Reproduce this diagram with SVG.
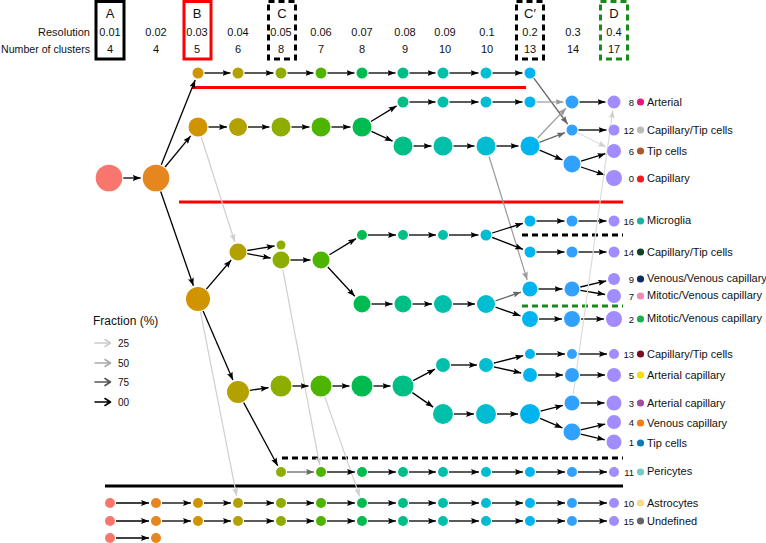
<svg xmlns="http://www.w3.org/2000/svg" width="766" height="543" viewBox="0 0 766 543">
<style>
text{font-family:"Liberation Sans",Arial,sans-serif;fill:#111}
.h{font-size:11px;text-anchor:middle}
.hl{font-size:13px;text-anchor:middle}
.hr{font-size:11px;text-anchor:end}
.num{font-size:9.5px;text-anchor:end}
.lab{font-size:11px}
.c0{fill:#F8766D}.c1{fill:#E6861F}.c2{fill:#D09400}.c3{fill:#B3A100}.c4{fill:#8DAD00}.c5{fill:#4DB500}.c6{fill:#00BB4F}.c7{fill:#00BF86}.c8{fill:#00C0AA}.c9{fill:#00BDD2}.c10{fill:#00B4EF}.c11{fill:#30A1FF}.c12{fill:#A28CFF}
.k{stroke:#000;stroke-width:1.3;fill:none;marker-end:url(#mk)}
.d{stroke:#666;stroke-width:1.3;fill:none;marker-end:url(#md)}
.g{stroke:#999;stroke-width:1.2;fill:none;marker-end:url(#mg)}
.l{stroke:#cfcfcf;stroke-width:1.2;fill:none;marker-end:url(#ml)}
</style>
<defs>
<marker id="mk" markerUnits="userSpaceOnUse" markerWidth="8" markerHeight="6" refX="8" refY="3" orient="auto" viewBox="0 0 8 6"><path d="M0,0 L8,3 L0,6 L1.5,3 z" fill="#000"/></marker>
<marker id="md" markerUnits="userSpaceOnUse" markerWidth="8" markerHeight="6" refX="8" refY="3" orient="auto" viewBox="0 0 8 6"><path d="M0,0 L8,3 L0,6 L1.5,3 z" fill="#666"/></marker>
<marker id="mg" markerUnits="userSpaceOnUse" markerWidth="8" markerHeight="6" refX="8" refY="3" orient="auto" viewBox="0 0 8 6"><path d="M0,0 L8,3 L0,6 L1.5,3 z" fill="#999"/></marker>
<marker id="ml" markerUnits="userSpaceOnUse" markerWidth="8" markerHeight="6" refX="8" refY="3" orient="auto" viewBox="0 0 8 6"><path d="M0,0 L8,3 L0,6 L1.5,3 z" fill="#cfcfcf"/></marker>
</defs>
<rect width="766" height="543" fill="#fff"/>

<g id="header">
<rect x="96" y="1.5" width="28" height="57.5" fill="none" stroke="#000" stroke-width="3"/>
<rect x="184" y="1.5" width="27" height="57.5" fill="none" stroke="#f00" stroke-width="3"/>
<rect x="268.5" y="1.5" width="27" height="57.5" fill="none" stroke="#000" stroke-width="3" stroke-dasharray="6,4"/>
<rect x="516.5" y="1.5" width="27" height="57.5" fill="none" stroke="#000" stroke-width="3" stroke-dasharray="6,4"/>
<rect x="600.5" y="1.5" width="27" height="57.5" fill="none" stroke="#1a8a1a" stroke-width="3" stroke-dasharray="6,4"/>
<text class="hl" x="110" y="18">A</text>
<text class="hl" x="197" y="18">B</text>
<text class="hl" x="282" y="18">C</text>
<text class="hl" x="530" y="18">C′</text>
<text class="hl" x="614" y="18">D</text>
<text class="hr" x="90" y="36">Resolution</text>
<text x="1" y="53" style="font-size:11px" textLength="89" lengthAdjust="spacingAndGlyphs">Number of clusters</text>
<text class="h" x="110" y="36">0.01</text><text class="h" x="110" y="53">4</text>
<text class="h" x="156" y="36">0.02</text><text class="h" x="156" y="53">4</text>
<text class="h" x="197" y="36">0.03</text><text class="h" x="197" y="53">5</text>
<text class="h" x="238" y="36">0.04</text><text class="h" x="238" y="53">6</text>
<text class="h" x="281" y="36">0.05</text><text class="h" x="281" y="53">8</text>
<text class="h" x="321" y="36">0.06</text><text class="h" x="321" y="53">7</text>
<text class="h" x="362" y="36">0.07</text><text class="h" x="362" y="53">8</text>
<text class="h" x="405" y="36">0.08</text><text class="h" x="405" y="53">9</text>
<text class="h" x="445" y="36">0.09</text><text class="h" x="445" y="53">10</text>
<text class="h" x="487" y="36">0.1</text><text class="h" x="487" y="53">10</text>
<text class="h" x="530" y="36">0.2</text><text class="h" x="530" y="53">13</text>
<text class="h" x="573" y="36">0.3</text><text class="h" x="573" y="53">14</text>
<text class="h" x="614" y="36">0.4</text><text class="h" x="614" y="53">17</text>
</g>

<g id="separators">
<line x1="192" y1="87.5" x2="526" y2="87.5" stroke="#f00" stroke-width="3"/>
<line x1="179" y1="202" x2="623" y2="202" stroke="#f00" stroke-width="3"/>
<line x1="522" y1="235" x2="623" y2="235" stroke="#000" stroke-width="3" stroke-dasharray="6,4"/>
<line x1="522" y1="306" x2="623" y2="306" stroke="#1a8a1a" stroke-width="3" stroke-dasharray="6,4"/>
<line x1="282" y1="458" x2="623" y2="458" stroke="#000" stroke-width="3" stroke-dasharray="6,4"/>
<line x1="105" y1="486" x2="623" y2="486" stroke="#000" stroke-width="3"/>
</g>

<g id="connectors">
<line class="k" x1="123.3" y1="178" x2="140.7" y2="178"/>
<line class="k" x1="161.3" y1="164.7" x2="195.2" y2="80"/>
<line class="k" x1="165.1" y1="167" x2="190.7" y2="135.9"/>
<line class="k" x1="160.7" y1="191.5" x2="193.4" y2="285.8"/>
<line class="k" x1="204.5" y1="73" x2="230.5" y2="73"/>
<line class="k" x1="244.5" y1="73" x2="273.5" y2="73"/>
<line class="k" x1="287.5" y1="73" x2="313.5" y2="73"/>
<line class="k" x1="327.5" y1="73" x2="354.5" y2="73"/>
<line class="k" x1="368.5" y1="73" x2="395.5" y2="73"/>
<line class="k" x1="409.5" y1="73" x2="435.5" y2="73"/>
<line class="k" x1="449.5" y1="73" x2="478.5" y2="73"/>
<line class="k" x1="492.5" y1="73" x2="522.5" y2="73"/>
<line class="d" x1="533.8" y1="78.2" x2="567.6" y2="124"/>
<line class="k" x1="208.5" y1="127" x2="227" y2="127"/>
<line class="k" x1="248" y1="127" x2="269.5" y2="127"/>
<line class="k" x1="291.5" y1="127" x2="309.5" y2="127"/>
<line class="k" x1="331.5" y1="127" x2="350.5" y2="127"/>
<line class="k" x1="371" y1="121.5" x2="396.6" y2="105.9"/>
<line class="k" x1="371.5" y1="131.4" x2="392.6" y2="141.2"/>
<line class="k" x1="409.5" y1="102" x2="435.5" y2="102"/>
<line class="k" x1="449.5" y1="102" x2="478.5" y2="102"/>
<line class="k" x1="492.5" y1="102" x2="522.5" y2="102"/>
<line class="g" x1="536.5" y1="102" x2="563.5" y2="102"/>
<line class="k" x1="579.5" y1="102" x2="605.5" y2="102"/>
<line class="k" x1="413.5" y1="146" x2="431.5" y2="146"/>
<line class="k" x1="453.5" y1="146" x2="474.5" y2="146"/>
<line class="k" x1="496.5" y1="146" x2="518.5" y2="146"/>
<line class="d" x1="539.3" y1="142.4" x2="565" y2="132.7"/>
<line class="g" x1="537.6" y1="138" x2="566.1" y2="108.1"/>
<line class="k" x1="539.6" y1="150.1" x2="562.4" y2="159.9"/>
<line class="k" x1="578.5" y1="130" x2="606.5" y2="130"/>
<line class="l" style="stroke:#e0e0e0" x1="577.4" y1="132.7" x2="606" y2="147"/>
<line class="k" x1="581.1" y1="161.2" x2="605.4" y2="153.7"/>
<line class="k" x1="581" y1="167" x2="604.5" y2="174.8"/>
<line class="g" x1="489.1" y1="156.5" x2="527.2" y2="279.9"/>
<line class="l" x1="201.2" y1="137" x2="234.8" y2="242"/>
<line class="k" x1="206.4" y1="289.1" x2="231.2" y2="260"/>
<line class="k" x1="203.1" y1="310.9" x2="232.9" y2="380.1"/>
<line class="l" x1="200.5" y1="311.8" x2="236.7" y2="496.1"/>
<line class="k" x1="247.4" y1="250.5" x2="274.6" y2="246"/>
<line class="k" x1="247.3" y1="253.7" x2="270.7" y2="258.1"/>
<line class="k" x1="290.5" y1="260" x2="310.5" y2="260"/>
<line class="l" x1="282.8" y1="269.3" x2="319.7" y2="465.1"/>
<line class="k" x1="329.5" y1="254.8" x2="356" y2="238.6"/>
<line class="k" x1="327.8" y1="267" x2="354.8" y2="296.3"/>
<line class="k" x1="368" y1="235" x2="396" y2="235"/>
<line class="k" x1="409" y1="235" x2="436" y2="235"/>
<line class="k" x1="449" y1="235" x2="478.5" y2="235"/>
<line class="k" x1="492.2" y1="233" x2="522.9" y2="223.3"/>
<line class="k" x1="492.1" y1="237.3" x2="523" y2="249.3"/>
<line class="k" x1="536.5" y1="221" x2="564.5" y2="221"/>
<line class="k" x1="578.5" y1="221" x2="606.5" y2="221"/>
<line class="k" x1="536.5" y1="252" x2="564.5" y2="252"/>
<line class="k" x1="578.5" y1="252" x2="606.5" y2="252"/>
<line class="k" x1="371.5" y1="304" x2="392.5" y2="304"/>
<line class="k" x1="412.5" y1="304" x2="432" y2="304"/>
<line class="k" x1="453" y1="304" x2="475" y2="304"/>
<line class="d" x1="495.5" y1="300.8" x2="521" y2="292.1"/>
<line class="k" x1="495.5" y1="307.2" x2="520.5" y2="315.8"/>
<line class="k" x1="538.5" y1="289" x2="562.5" y2="289"/>
<line class="k" x1="580.3" y1="287" x2="606.2" y2="280.9"/>
<line class="k" x1="580.4" y1="290.4" x2="605.1" y2="294.5"/>
<line class="k" x1="539" y1="319" x2="562" y2="319"/>
<line class="k" x1="581" y1="319" x2="604" y2="319"/>
<line class="k" x1="249.9" y1="390.3" x2="268.6" y2="387.7"/>
<line class="k" x1="243.7" y1="402.6" x2="277.7" y2="465.8"/>
<line class="k" x1="292.5" y1="386" x2="308.5" y2="386"/>
<line class="k" x1="332.5" y1="386" x2="349.5" y2="386"/>
<line class="k" x1="373.5" y1="386" x2="390.5" y2="386"/>
<line class="l" x1="324.8" y1="396.9" x2="359.7" y2="496.4"/>
<line class="k" x1="413.2" y1="380.6" x2="435" y2="369.2"/>
<line class="k" x1="412.4" y1="392.6" x2="433.2" y2="407.1"/>
<line class="k" x1="451" y1="365" x2="477" y2="365"/>
<line class="k" x1="493.8" y1="363.1" x2="523.2" y2="355.7"/>
<line class="k" x1="493.8" y1="366.8" x2="521.2" y2="373"/>
<line class="k" x1="536" y1="354" x2="565" y2="354"/>
<line class="k" x1="578" y1="354" x2="607" y2="354"/>
<line class="k" x1="538" y1="375" x2="563" y2="375"/>
<line class="k" x1="580" y1="375" x2="605" y2="375"/>
<line class="k" x1="454" y1="414" x2="474" y2="414"/>
<line class="k" x1="497" y1="414" x2="518" y2="414"/>
<line class="k" x1="540.6" y1="411.2" x2="562.8" y2="405.4"/>
<line class="k" x1="540.1" y1="418.3" x2="562.4" y2="427.9"/>
<line class="k" x1="580.5" y1="403" x2="604.5" y2="403"/>
<line class="l" style="stroke:#dcdcdc" x1="573.2" y1="394.6" x2="612.8" y2="110.4"/>
<line class="k" x1="580.8" y1="429.9" x2="605.2" y2="424.1"/>
<line class="k" x1="580.8" y1="434.1" x2="604.8" y2="439.8"/>
<line class="d" x1="287" y1="472" x2="314" y2="472"/>
<line class="k" x1="327" y1="472" x2="355" y2="472"/>
<line class="k" x1="368" y1="472" x2="396" y2="472"/>
<line class="k" x1="409" y1="472" x2="436" y2="472"/>
<line class="k" x1="449" y1="472" x2="479" y2="472"/>
<line class="k" x1="492" y1="472" x2="523" y2="472"/>
<line class="k" x1="536" y1="472" x2="565" y2="472"/>
<line class="k" x1="578" y1="472" x2="607" y2="472"/>
<line class="k" x1="116" y1="503" x2="149" y2="503"/>
<line class="k" x1="162" y1="503" x2="191" y2="503"/>
<line class="k" x1="204" y1="503" x2="231" y2="503"/>
<line class="k" x1="244" y1="503" x2="274" y2="503"/>
<line class="k" x1="287" y1="503" x2="314" y2="503"/>
<line class="k" x1="327" y1="503" x2="355" y2="503"/>
<line class="k" x1="368" y1="503" x2="396" y2="503"/>
<line class="k" x1="409" y1="503" x2="436" y2="503"/>
<line class="k" x1="449" y1="503" x2="479" y2="503"/>
<line class="k" x1="492" y1="503" x2="523" y2="503"/>
<line class="k" x1="536" y1="503" x2="565" y2="503"/>
<line class="k" x1="578" y1="503" x2="607" y2="503"/>
<line class="k" x1="116" y1="521" x2="149" y2="521"/>
<line class="k" x1="162" y1="521" x2="191" y2="521"/>
<line class="k" x1="204" y1="521" x2="231" y2="521"/>
<line class="k" x1="244" y1="521" x2="274" y2="521"/>
<line class="k" x1="287" y1="521" x2="314" y2="521"/>
<line class="k" x1="327" y1="521" x2="355" y2="521"/>
<line class="k" x1="368" y1="521" x2="396" y2="521"/>
<line class="k" x1="409" y1="521" x2="436" y2="521"/>
<line class="k" x1="449" y1="521" x2="479" y2="521"/>
<line class="k" x1="492" y1="521" x2="523" y2="521"/>
<line class="k" x1="536" y1="521" x2="565" y2="521"/>
<line class="k" x1="578" y1="521" x2="607" y2="521"/>
<line class="k" x1="116" y1="538" x2="149" y2="538"/>
</g>

<g id="nodes">
<g id="n-root"><circle class="c0" cx="109" cy="178" r="13.3"/></g>
<g id="n-r002"><circle class="c1" cx="156" cy="178" r="13.3"/></g>
<g id="n-top"><circle class="c2" cx="198" cy="73" r="5.5"/><circle class="c3" cx="238" cy="73" r="5.5"/><circle class="c4" cx="281" cy="73" r="5.5"/><circle class="c5" cx="321" cy="73" r="5.5"/><circle class="c6" cx="362" cy="73" r="5.5"/><circle class="c7" cx="403" cy="73" r="5.5"/><circle class="c8" cx="443" cy="73" r="5.5"/><circle class="c9" cx="486" cy="73" r="5.5"/><circle class="c10" cx="530" cy="73" r="5.5"/></g>
<g id="n-row127"><circle class="c2" cx="198" cy="127" r="9.5"/><circle class="c3" cx="238" cy="127" r="9"/><circle class="c4" cx="281" cy="127" r="9.5"/><circle class="c5" cx="321" cy="127" r="9.5"/><circle class="c6" cx="362" cy="127" r="9.5"/></g>
<g id="n-row102"><circle class="c7" cx="403" cy="102" r="5.5"/><circle class="c8" cx="443" cy="102" r="5.5"/><circle class="c9" cx="486" cy="102" r="5.5"/><circle class="c10" cx="530" cy="102" r="5.5"/><circle class="c11" cx="572" cy="102" r="6.5"/><circle class="c12" cx="614" cy="102" r="6.5"/></g>
<g id="n-row146"><circle class="c7" cx="403" cy="146" r="9.5"/><circle class="c8" cx="443" cy="146" r="9.5"/><circle class="c9" cx="486" cy="146" r="9.5"/><circle class="c10" cx="530" cy="146" r="9.5"/></g>
<g id="n-row130"><circle class="c11" cx="572" cy="130" r="5.5"/><circle class="c12" cx="614" cy="130" r="5.5"/></g>
<g id="n-row164"><circle class="c11" cx="572" cy="164" r="8.5"/><circle class="c12" cx="614" cy="151" r="7"/><circle class="c12" cx="614" cy="178" r="8"/></g>
<g id="n-row299"><circle class="c2" cx="198" cy="299" r="12"/><circle class="c3" cx="238" cy="252" r="8.5"/><circle class="c4" cx="281" cy="245" r="4.5"/><circle class="c4" cx="281" cy="260" r="8.5"/><circle class="c5" cx="321" cy="260" r="8.5"/></g>
<g id="n-row235"><circle class="c6" cx="362" cy="235" r="5"/><circle class="c7" cx="403" cy="235" r="5"/><circle class="c8" cx="443" cy="235" r="5"/><circle class="c9" cx="486" cy="235" r="5.5"/></g>
<g id="n-row221"><circle class="c10" cx="530" cy="221" r="5.5"/><circle class="c11" cx="572" cy="221" r="5.5"/><circle class="c12" cx="614" cy="221" r="5.5"/></g>
<g id="n-row252"><circle class="c10" cx="530" cy="252" r="5.5"/><circle class="c11" cx="572" cy="252" r="5.5"/><circle class="c12" cx="614" cy="252" r="5.5"/></g>
<g id="n-row304"><circle class="c6" cx="362" cy="304" r="8.5"/><circle class="c7" cx="403" cy="304" r="8.5"/><circle class="c8" cx="443" cy="304" r="9"/><circle class="c9" cx="486" cy="304" r="9"/></g>
<g id="n-row289"><circle class="c10" cx="530" cy="289" r="7.5"/><circle class="c11" cx="572" cy="289" r="7.5"/><circle class="c12" cx="614" cy="279" r="6"/><circle class="c12" cx="614" cy="296" r="7"/></g>
<g id="n-row319"><circle class="c10" cx="530" cy="319" r="8"/><circle class="c11" cx="572" cy="319" r="8"/><circle class="c12" cx="614" cy="319" r="8"/></g>
<g id="n-row386"><circle class="c3" cx="238" cy="392" r="11"/><circle class="c4" cx="281" cy="386" r="10.5"/><circle class="c5" cx="321" cy="386" r="10.5"/><circle class="c6" cx="362" cy="386" r="10.5"/><circle class="c7" cx="403" cy="386" r="10.5"/></g>
<g id="n-row365"><circle class="c8" cx="443" cy="365" r="7"/><circle class="c9" cx="486" cy="365" r="7"/></g>
<g id="n-row354"><circle class="c10" cx="530" cy="354" r="5"/><circle class="c11" cx="572" cy="354" r="5"/><circle class="c12" cx="614" cy="354" r="5"/></g>
<g id="n-row375"><circle class="c10" cx="530" cy="375" r="7"/><circle class="c11" cx="572" cy="375" r="7"/><circle class="c12" cx="614" cy="375" r="7"/></g>
<g id="n-row414"><circle class="c8" cx="443" cy="414" r="10"/><circle class="c9" cx="486" cy="414" r="10"/><circle class="c10" cx="530" cy="414" r="10"/></g>
<g id="n-row403"><circle class="c11" cx="572" cy="403" r="7.5"/><circle class="c12" cx="614" cy="403" r="7.5"/></g>
<g id="n-row432"><circle class="c11" cx="572" cy="432" r="8.5"/><circle class="c12" cx="614" cy="422" r="7"/><circle class="c12" cx="614" cy="442" r="7.5"/></g>
<g id="n-pericytes"><circle class="c4" cx="281" cy="472" r="5"/><circle class="c5" cx="321" cy="472" r="5"/><circle class="c6" cx="362" cy="472" r="5"/><circle class="c7" cx="403" cy="472" r="5"/><circle class="c8" cx="443" cy="472" r="5"/><circle class="c9" cx="486" cy="472" r="5"/><circle class="c10" cx="530" cy="472" r="5"/><circle class="c11" cx="572" cy="472" r="5"/><circle class="c12" cx="614" cy="472" r="5"/></g>
<g id="n-astro"><circle class="c0" cx="110" cy="503" r="5"/><circle class="c1" cx="156" cy="503" r="5"/><circle class="c2" cx="198" cy="503" r="5"/><circle class="c3" cx="238" cy="503" r="5"/><circle class="c4" cx="281" cy="503" r="5"/><circle class="c5" cx="321" cy="503" r="5"/><circle class="c6" cx="362" cy="503" r="5"/><circle class="c7" cx="403" cy="503" r="5"/><circle class="c8" cx="443" cy="503" r="5"/><circle class="c9" cx="486" cy="503" r="5"/><circle class="c10" cx="530" cy="503" r="5"/><circle class="c11" cx="572" cy="503" r="5"/><circle class="c12" cx="614" cy="503" r="5"/></g>
<g id="n-undef"><circle class="c0" cx="110" cy="521" r="5"/><circle class="c1" cx="156" cy="521" r="5"/><circle class="c2" cx="198" cy="521" r="5"/><circle class="c3" cx="238" cy="521" r="5"/><circle class="c4" cx="281" cy="521" r="5"/><circle class="c5" cx="321" cy="521" r="5"/><circle class="c6" cx="362" cy="521" r="5"/><circle class="c7" cx="403" cy="521" r="5"/><circle class="c8" cx="443" cy="521" r="5"/><circle class="c9" cx="486" cy="521" r="5"/><circle class="c10" cx="530" cy="521" r="5"/><circle class="c11" cx="572" cy="521" r="5"/><circle class="c12" cx="614" cy="521" r="5"/></g>
<g id="n-last"><circle class="c0" cx="110" cy="538" r="5"/><circle class="c1" cx="156" cy="538" r="5"/></g>
</g>

<g id="labels">
<g id="lab8"><text class="num" x="634" y="105.5">8</text><circle cx="640.5" cy="102" r="3.6" fill="#E8177F"/><text class="lab" x="647" y="106">Arterial</text></g>
<g id="lab12"><text class="num" x="634" y="133.5">12</text><circle cx="640.5" cy="130" r="3.6" fill="#BBBBBB"/><text class="lab" x="647" y="134">Capillary/Tip cells</text></g>
<g id="lab6"><text class="num" x="634" y="154.5">6</text><circle cx="640.5" cy="151" r="3.6" fill="#B0562A"/><text class="lab" x="647" y="155">Tip cells</text></g>
<g id="lab0"><text class="num" x="634" y="181.5">0</text><circle cx="640.5" cy="179" r="3.6" fill="#EE1C1C"/><text class="lab" x="647" y="182">Capillary</text></g>
<g id="lab16"><text class="num" x="634" y="224.5">16</text><circle cx="640.5" cy="221" r="3.6" fill="#19B3A0"/><text class="lab" x="647" y="224">Microglia</text></g>
<g id="lab14"><text class="num" x="634" y="255.5">14</text><circle cx="640.5" cy="252" r="3.6" fill="#0B4420"/><text class="lab" x="647" y="256">Capillary/Tip cells</text></g>
<g id="lab9"><text class="num" x="634" y="282.5">9</text><circle cx="640.5" cy="279" r="3.6" fill="#0B2E5C"/><text class="lab" x="647" y="282">Venous/Venous capillary</text></g>
<g id="lab7"><text class="num" x="634" y="299.5">7</text><circle cx="640.5" cy="296" r="3.6" fill="#F088B8"/><text class="lab" x="647" y="299">Mitotic/Venous capillary</text></g>
<g id="lab2"><text class="num" x="634" y="322.5">2</text><circle cx="640.5" cy="319" r="3.6" fill="#1AB04F"/><text class="lab" x="647" y="322">Mitotic/Venous capillary</text></g>
<g id="lab13"><text class="num" x="634" y="357.5">13</text><circle cx="640.5" cy="354" r="3.6" fill="#7A0E23"/><text class="lab" x="647" y="358">Capillary/Tip cells</text></g>
<g id="lab5"><text class="num" x="634" y="378.5">5</text><circle cx="640.5" cy="375" r="3.6" fill="#F3E000"/><text class="lab" x="647" y="379">Arterial capillary</text></g>
<g id="lab3"><text class="num" x="634" y="406.5">3</text><circle cx="640.5" cy="403" r="3.6" fill="#A14EA0"/><text class="lab" x="647" y="407">Arterial capillary</text></g>
<g id="lab4"><text class="num" x="634" y="425.5">4</text><circle cx="640.5" cy="423" r="3.6" fill="#F57A10"/><text class="lab" x="647" y="427">Venous capillary</text></g>
<g id="lab1"><text class="num" x="634" y="445.5">1</text><circle cx="640.5" cy="443" r="3.6" fill="#0C7BB8"/><text class="lab" x="647" y="447">Tip cells</text></g>
<g id="lab11"><text class="num" x="634" y="475.5">11</text><circle cx="640.5" cy="472" r="3.6" fill="#6FCCC0"/><text class="lab" x="647" y="475">Pericytes</text></g>
<g id="lab10"><text class="num" x="634" y="506.5">10</text><circle cx="640.5" cy="503" r="3.6" fill="#F8D88A"/><text class="lab" x="647" y="507">Astrocytes</text></g>
<g id="lab15"><text class="num" x="634" y="524.5">15</text><circle cx="640.5" cy="521" r="3.6" fill="#666666"/><text class="lab" x="647" y="525">Undefined</text></g>
</g>

<g id="legend">
<text x="93" y="325" style="font-size:12px">Fraction (%)</text>
<g fill="none" stroke-linecap="round" stroke-linejoin="round">
<path d="M95,343 H110 M105,339.5 L110.5,343 L105,346.5" stroke="#cccccc" stroke-width="1.5"/>
<path d="M95,363 H110 M105,359.5 L110.5,363 L105,366.5" stroke="#aaaaaa" stroke-width="1.5"/>
<path d="M95,382 H110 M105,378.5 L110.5,382 L105,385.5" stroke="#555555" stroke-width="1.6"/>
<path d="M95,402 H110 M105,398.5 L110.5,402 L105,405.5" stroke="#000000" stroke-width="1.6"/>
</g>
<text x="118" y="347" style="font-size:10px">25</text>
<text x="118" y="367" style="font-size:10px">50</text>
<text x="118" y="386" style="font-size:10px">75</text>
<text x="118" y="406" style="font-size:10px">00</text>
</g>
</svg>
